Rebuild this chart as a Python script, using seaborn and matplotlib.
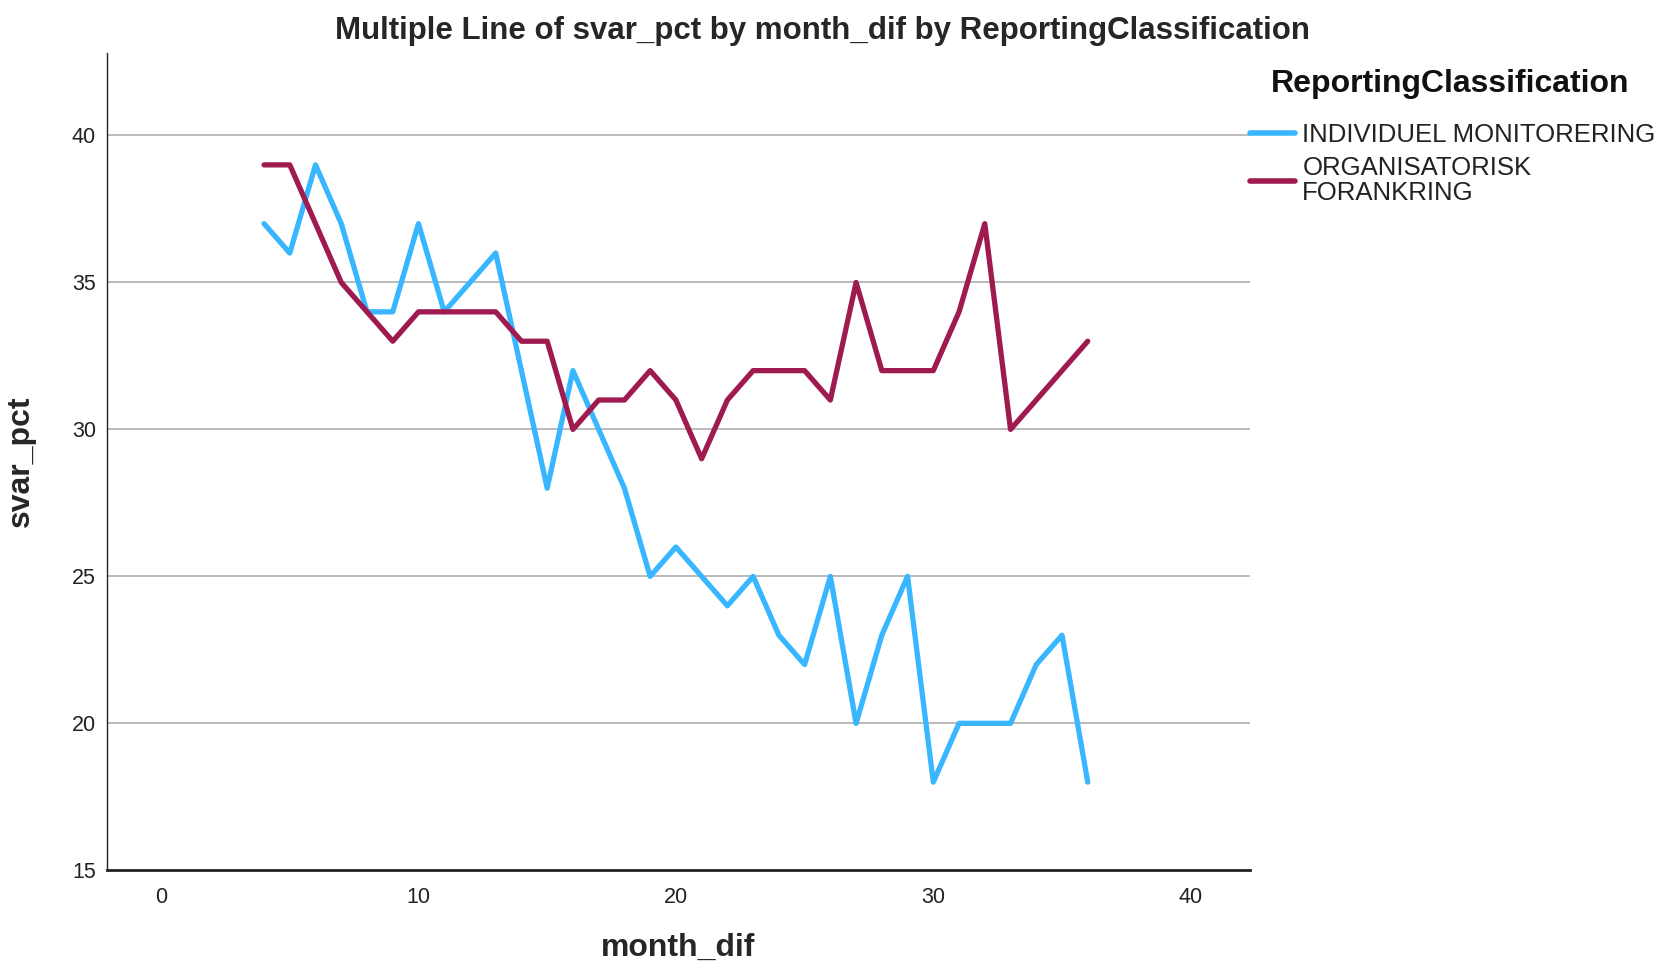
"""
Multiple line chart: svar_pct by month_dif, split by ReportingClassification.
"""

import numpy as np
import pandas as pd
import matplotlib
matplotlib.use("Agg")
import matplotlib.pyplot as plt
import seaborn as sns

# -----------------------------
# Data
# -----------------------------

MONTHS = list(range(4, 37))

INDIVIDUEL = [37, 36, 39, 37, 34, 34, 37, 34, 35, 36, 32, 28, 32, 30, 28, 25, 26,
              25, 24, 25, 23, 22, 25, 20, 23, 25, 18, 20, 20, 20, 22, 23, 18]
ORGANISATORISK = [39, 39, 37, 35, 34, 33, 34, 34, 34, 34, 33, 33, 30, 31, 31, 32, 31,
                  29, 31, 32, 32, 32, 31, 35, 32, 32, 32, 34, 37, 30, 31, 32, 33]

GROUPS = ["INDIVIDUEL MONITORERING", "ORGANISATORISK\nFORANKRING"]
COLORS = ["#38b6ff", "#9f1a4f"]

X_TICKS = [0, 10, 20, 30, 40]
Y_TICKS = [15, 20, 25, 30, 35, 40]

# -----------------------------
# Plot
# -----------------------------

sns.set_theme(style="white")
plt.rcParams["font.family"] = ["Liberation Sans", "DejaVu Sans"]

df = pd.DataFrame({
    "month_dif": MONTHS * 2,
    "svar_pct": INDIVIDUEL + ORGANISATORISK,
    "ReportingClassification": [GROUPS[0]] * len(MONTHS) + [GROUPS[1]] * len(MONTHS),
})

fig = plt.figure(figsize=(16.54, 9.67), dpi=100)
ax = fig.add_axes([0.0647, 0.100, 0.6910, 0.845])

# horizontal reference lines like the SPSS output
for y in Y_TICKS[1:]:
    ax.axhline(y, color="#b4b4b4", linewidth=1.3, zorder=0)

sns.lineplot(
    data=df, x="month_dif", y="svar_pct", hue="ReportingClassification",
    palette=dict(zip(GROUPS, COLORS)), linewidth=3.8, ax=ax, legend=False,
)

ax.set_xlim(-2.1, 42.3)
ax.set_ylim(15, 42.8)
ax.set_xticks(X_TICKS)
ax.set_yticks(Y_TICKS)
ax.tick_params(axis="both", length=0, labelsize=15.5, colors="#222222")
ax.tick_params(axis="x", pad=12)
ax.tick_params(axis="y", pad=8)

for side in ["top", "right"]:
    ax.spines[side].set_visible(False)
ax.spines["left"].set_color("#222222")
ax.spines["left"].set_linewidth(1.0)
ax.spines["bottom"].set_color("#222222")
ax.spines["bottom"].set_linewidth(2.0)

ax.set_xlabel("month_dif", fontsize=23, fontweight="bold", labelpad=18)
ax.set_ylabel("svar_pct", fontsize=23, fontweight="bold", labelpad=26)
ax.set_title("Multiple Line of svar_pct by month_dif by ReportingClassification",
             fontsize=22.5, fontweight="bold", pad=10, x=0.626)

# legend title drawn separately so its gap to the entries can be controlled
fig.text(0.7685, 0.913, "ReportingClassification", fontsize=23, fontweight="bold",
         ha="left", va="center", color="#111111")

handles = [plt.Line2D([], [], color=c, linewidth=4) for c in COLORS]
leg = fig.legend(
    handles, GROUPS, loc="upper left", bbox_to_anchor=(0.7555, 0.873), frameon=False,
    fontsize=18.5, handlelength=1.75, handletextpad=0.3, labelspacing=0.35,
    borderaxespad=0, borderpad=0,
)
for t in leg.get_texts():
    t.set_linespacing(1.05)
    t.set_color("#222222")

fig.savefig("out.png", dpi=100)
